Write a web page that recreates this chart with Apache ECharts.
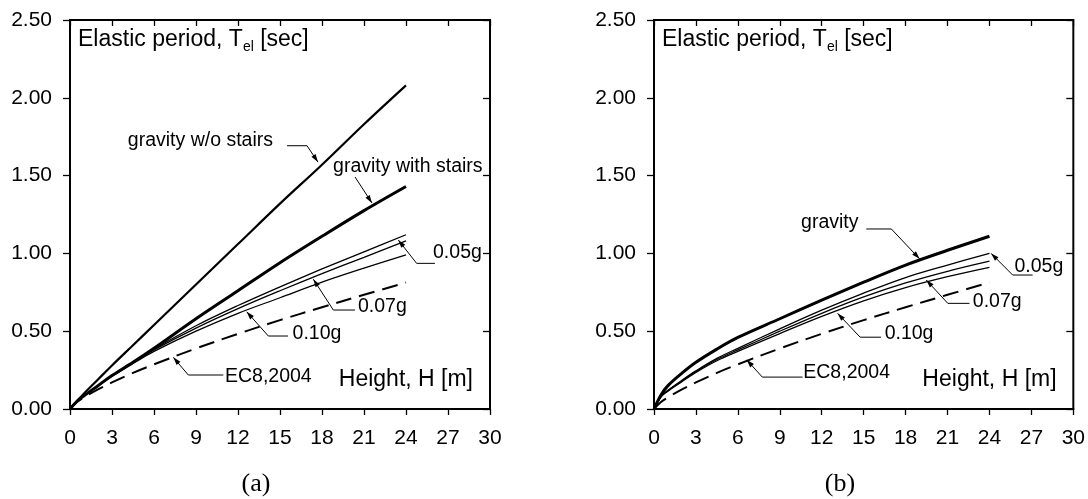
<!DOCTYPE html>
<html>
<head>
<meta charset="utf-8">
<script src="https://cdn.jsdelivr.net/npm/echarts@6/dist/echarts.min.js"></script>
<style>
  html, body { margin: 0; padding: 0; background: #fff; }
  #chart { width: 1088px; height: 499px; }
</style>
</head>
<body>
<div id="chart"></div>
<script>
// building height H [m]
const heights = [0, 0.5, 1, 2, 3, 4.5, 6, 9, 12, 15, 18, 21, 24]
const xTicks = [0, 3, 6, 9, 12, 15, 18, 21, 24, 27, 30]
const yTicks = ['0.00', '0.50', '1.00', '1.50', '2.00', '2.50']

// panel (a) elastic period T_el [sec]
const aGravityNoStairs = [0, 0.05, 0.10, 0.19, 0.28, 0.41, 0.54, 0.80, 1.06, 1.32, 1.57, 1.83, 2.08]
const aGravityStairs = [0, 0.05, 0.085, 0.15, 0.215, 0.30, 0.39, 0.58, 0.76, 0.94, 1.11, 1.275, 1.43]
const aPga005 = [0, 0.05, 0.085, 0.15, 0.215, 0.30, 0.385, 0.535, 0.665, 0.785, 0.90, 1.01, 1.12]
const aPga007 = [0, 0.05, 0.085, 0.15, 0.213, 0.297, 0.38, 0.52, 0.645, 0.76, 0.87, 0.975, 1.08]
const aPga010 = [0, 0.05, 0.085, 0.148, 0.21, 0.292, 0.37, 0.50, 0.615, 0.715, 0.815, 0.905, 0.99]

// panel (b)
const bGravity = [0, 0.09, 0.15, 0.23, 0.30, 0.385, 0.46, 0.58, 0.70, 0.815, 0.925, 1.02, 1.11]
const bPga005 = [0, 0.08, 0.12, 0.185, 0.245, 0.325, 0.39, 0.515, 0.635, 0.745, 0.845, 0.925, 1.00]
const bPga007 = [0, 0.08, 0.118, 0.18, 0.24, 0.318, 0.38, 0.50, 0.615, 0.72, 0.81, 0.885, 0.95]
const bPga010 = [0, 0.078, 0.115, 0.176, 0.235, 0.31, 0.37, 0.485, 0.595, 0.695, 0.78, 0.85, 0.91]

// EC8 (2004) code estimate, both panels
const ec8 = [0, 0.045, 0.075, 0.126, 0.171, 0.232, 0.287, 0.389, 0.483, 0.571, 0.654, 0.734, 0.813]

// leader labels, in axis units [H, T]
const annotationsA = [
  { text: 'gravity w/o stairs', tip: [17.71, 1.587], path: [[16.93, 1.692], [15.5, 1.692]], label: [14.5, 1.722], align: 'right' },
  { text: 'gravity with stairs', tip: [21.57, 1.324], path: [[20.36, 1.491]], label: [18.79, 1.558], align: 'left' },
  { text: '0.05g', tip: [23.45, 1.086], path: [[24.76, 0.936], [26.07, 0.936]], label: [25.93, 1.004], align: 'left' },
  { text: '0.07g', tip: [17.38, 0.834], path: [[18.81, 0.636], [20.36, 0.636]], label: [20.57, 0.656], align: 'left' },
  { text: '0.10g', tip: [12.62, 0.625], path: [[14.17, 0.469], [15.57, 0.469]], label: [15.9, 0.487], align: 'left' },
  { text: 'EC8,2004', tip: [7.38, 0.332], path: [[8.45, 0.2185], [10.95, 0.2185]], label: [11.07, 0.21], align: 'left' }
]
const annotationsB = [
  { text: 'gravity', tip: [19.0, 0.965], path: [[16.98, 1.157], [15.19, 1.157]], label: [14.63, 1.20], align: 'right' },
  { text: '0.05g', tip: [24.12, 1.0], path: [[25.66, 0.861], [27.09, 0.861]], label: [25.79, 0.913], align: 'left' },
  { text: '0.07g', tip: [19.48, 0.829], path: [[21.02, 0.679], [22.57, 0.679]], label: [22.81, 0.688], align: 'left' },
  { text: '0.10g', tip: [13.13, 0.615], path: [[14.75, 0.4615], [16.25, 0.4615]], label: [16.5, 0.485], align: 'left' },
  { text: 'EC8,2004', tip: [6.63, 0.316], path: [[7.75, 0.205], [10.63, 0.205]], label: [10.68, 0.235], align: 'left' }
]

const FONT = '"Liberation Sans", Arial, sans-serif'
const SERIF = '"Liberation Serif", "Times New Roman", serif'
const gridBoxes = [
  { left: 70, top: 20, width: 420, height: 389 },
  { left: 654, top: 20, width: 420, height: 389 }
]

const chart = echarts.init(document.getElementById('chart'), null, { renderer: 'canvas' })

function xAxisDef(g, inner) {
  return {
    type: 'value',
    gridIndex: g,
    min: 0,
    max: 30,
    interval: 3,
    axisLine: { show: !inner, onZero: false, lineStyle: { color: '#000', width: 2 } },
    axisTick: { show: true, inside: inner, length: 6, lineStyle: { color: '#000', width: 1.3 } },
    axisLabel: {
      show: !inner,
      color: '#000',
      fontSize: 21,
      fontFamily: FONT,
      margin: 19,
      formatter: (v) => String(xTicks[Math.round(v / 3)])
    },
    splitLine: { show: false }
  }
}

function yAxisDef(g, inner) {
  return {
    type: 'value',
    gridIndex: g,
    min: 0,
    max: 2.5,
    interval: 0.5,
    axisLine: { show: !inner, onZero: false, lineStyle: { color: '#000', width: 2 } },
    axisTick: { show: true, inside: inner, length: 7, lineStyle: { color: '#000', width: 1.3 } },
    axisLabel: {
      show: !inner,
      color: '#000',
      fontSize: 21,
      fontFamily: FONT,
      margin: 18,
      formatter: (v) => yTicks[Math.round(v / 0.5)]
    },
    splitLine: { show: false }
  }
}

function lineSeries(g, values, width, dashed) {
  return {
    type: 'line',
    xAxisIndex: g * 2,
    yAxisIndex: g * 2,
    data: heights.map((h, i) => [h, values[i]]),
    symbol: 'none',
    smooth: 0.35,
    silent: true,
    lineStyle: {
      color: '#000',
      width: width,
      type: dashed ? [16, 8] : 'solid',
      cap: 'butt'
    }
  }
}

chart.setOption({
  animation: false,
  backgroundColor: '#fff',
  grid: gridBoxes.map((b) => ({ ...b, show: true, borderColor: '#000', borderWidth: 2, backgroundColor: 'transparent' })),
  xAxis: [xAxisDef(0, false), xAxisDef(0, true), xAxisDef(1, false), xAxisDef(1, true)],
  yAxis: [yAxisDef(0, false), yAxisDef(0, true), yAxisDef(1, false), yAxisDef(1, true)],
  series: [
    lineSeries(0, aGravityNoStairs, 2.2),
    lineSeries(0, aGravityStairs, 3),
    lineSeries(0, aPga005, 1.3),
    lineSeries(0, aPga007, 1.3),
    lineSeries(0, aPga010, 1.3),
    lineSeries(0, ec8, 2, true),
    lineSeries(1, bGravity, 3),
    lineSeries(1, bPga005, 1.3),
    lineSeries(1, bPga007, 1.3),
    lineSeries(1, bPga010, 1.3),
    lineSeries(1, ec8, 2, true)
  ]
})

function toPx(g, p) {
  return chart.convertToPixel({ xAxisIndex: g * 2, yAxisIndex: g * 2 }, p)
}

function annotationGraphics(g, list) {
  const out = []
  list.forEach((a) => {
    const tip = toPx(g, a.tip)
    const pts = [tip].concat(a.path.map((p) => toPx(g, p)))
    out.push({
      type: 'polyline',
      shape: { points: pts },
      style: { stroke: '#000', lineWidth: 1, fill: null },
      silent: true
    })
    // arrow head at the tip
    const dx = pts[1][0] - tip[0]
    const dy = pts[1][1] - tip[1]
    const len = Math.sqrt(dx * dx + dy * dy)
    const ux = dx / len
    const uy = dy / len
    const bx = tip[0] + ux * 8
    const by = tip[1] + uy * 8
    out.push({
      type: 'polygon',
      shape: { points: [tip, [bx - uy * 2.5, by + ux * 2.5], [bx + uy * 2.5, by - ux * 2.5]] },
      style: { fill: '#000' },
      silent: true
    })
    const lp = toPx(g, a.label)
    out.push({
      type: 'text',
      x: lp[0],
      y: lp[1],
      style: {
        text: a.text,
        fill: '#000',
        font: '19.5px ' + FONT,
        textAlign: a.align,
        textVerticalAlign: 'middle'
      },
      silent: true
    })
  })
  return out
}

function panelTexts(g, caption) {
  const b = gridBoxes[g]
  const heightPos = toPx(g, [19.2, 0])
  return [
    {
      type: 'text',
      x: b.left + 8,
      y: 28,
      style: {
        text: '{n|Elastic period, T}{s|el}{n| [sec]}',
        fill: '#000',
        textVerticalAlign: 'top',
        rich: {
          n: { fontSize: 23, fontFamily: FONT, color: '#000', verticalAlign: 'bottom' },
          s: { fontSize: 14, fontFamily: FONT, color: '#000', verticalAlign: 'bottom', padding: [0, 0, -3, 0] }
        }
      },
      silent: true
    },
    {
      type: 'text',
      x: heightPos[0],
      y: 379.5,
      style: {
        text: 'Height, H [m]',
        fill: '#000',
        font: '23px ' + FONT,
        textAlign: 'left',
        textVerticalAlign: 'middle'
      },
      silent: true
    },
    {
      type: 'text',
      x: b.left + b.width / 2 - 24,
      y: 484,
      style: {
        text: caption,
        fill: '#000',
        font: '26px ' + SERIF,
        textAlign: 'center',
        textVerticalAlign: 'middle'
      },
      silent: true
    }
  ]
}

chart.setOption({
  graphic: [].concat(
    annotationGraphics(0, annotationsA),
    annotationGraphics(1, annotationsB),
    panelTexts(0, '(a)'),
    panelTexts(1, '(b)')
  )
})
</script>
</body>
</html>
